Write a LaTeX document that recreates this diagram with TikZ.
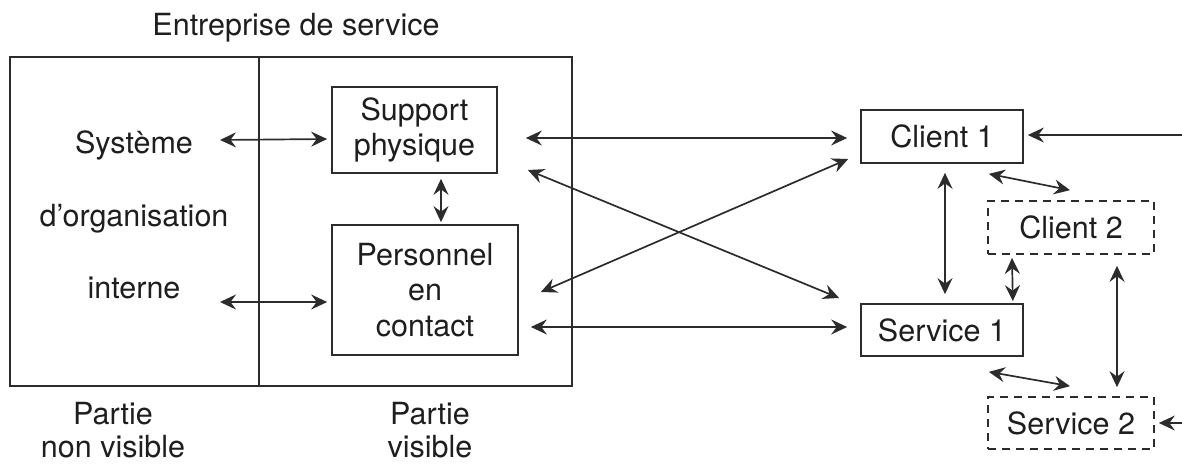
\documentclass[tikz,border=0pt]{standalone}
\usepackage{fontspec}
\setmainfont{TeX Gyre Heros}
\usetikzlibrary{arrows.meta}
\definecolor{ink}{HTML}{1e1e1e}
\definecolor{wire}{HTML}{2c2c2c}
\begin{document}
\begin{tikzpicture}[x=1pt,y=-1pt,
  every node/.style={font=\fontsize{30.5}{35.5}\selectfont, text=ink},
  label/.style={anchor=base, inner sep=0pt},
  frame/.style={draw=wire, line width=1.7pt, inner sep=0pt, align=center},
  dashbox/.style={frame, dash pattern=on 8pt off 6pt},
  >={Stealth[length=16pt,width=15pt,inset=5.5pt]},
  link/.style={draw=wire, line width=1.7pt, <->},
  feed/.style={draw=wire, line width=1.7pt, ->}]
\useasboundingbox (0,0) rectangle (1182,463);

% the service company: hidden part and visible part
\node[label] (title) at (296,35) {Entreprise de service};
\node[frame, minimum width=249pt, minimum height=329pt] (hidden) at (134.5,221.5) {};
\node[frame, minimum width=313pt, minimum height=329pt] (shown) at (415.5,221.5) {};

\node[label] (sys1) at (134,153) {Système};
\node[label] (sys2) at (134,226) {d’organisation};
\node[label] (sys3) at (134,298) {interne};

\node[frame, minimum width=165pt, minimum height=86pt] (sp) at (414.5,130) {Support\\physique};
\node[frame, minimum width=186pt, minimum height=130pt] (pc) at (425,290) {Personnel\\en\\contact};

\node[label] (p1) at (113,424) {Partie};
\node[label] (p2) at (113,457) {non visible};
\node[label] (v1) at (430,424) {Partie};
\node[label] (v2) at (430,457) {visible};

% clients and services
\node[frame, minimum width=162pt, minimum height=53pt] (c1) at (942,136.5) {Client 1};
\node[dashbox, minimum width=166pt, minimum height=53pt] (c2) at (1071,227.5) {Client 2};
\node[frame, minimum width=162pt, minimum height=52pt] (s1) at (942,330) {Service 1};
\node[dashbox, minimum width=166pt, minimum height=52pt] (s2) at (1071,423) {Service 2};

\coordinate (sysA) at (220,140);
\coordinate (sysB) at (220,302);
\coordinate (in1) at (1182,135);
\coordinate (in2) at (1182,423);

% links inside the company
\draw[link] (sysA) -- ([xshift=-4pt,yshift=-9pt]sp.west);
\draw[link] (sysB) -- ([xshift=-4pt,yshift=-12pt]pc.west);
\draw[link] ([xshift=26.5pt,yshift=-5pt]sp.south) -- ([xshift=16pt,yshift=2pt]pc.north);

% links between company and clients/services
\draw[link] ([xshift=28pt,yshift=-8pt]sp.east) -- ([xshift=-13pt,yshift=-1.5pt]c1.west);
\draw[link] ([xshift=30pt,yshift=-40pt]sp.east) -- ([xshift=-21pt,yshift=32pt]s1.west);
\draw[link] ([xshift=22pt,yshift=-2pt]pc.east) -- ([xshift=-12pt,yshift=-22.5pt]c1.west);
\draw[link] ([xshift=12pt,yshift=-37pt]pc.east) -- ([xshift=-13pt,yshift=3pt]s1.west);

% links among clients and services
\draw[link] ([xshift=3pt,yshift=-9pt]c1.south) -- ([xshift=3pt,yshift=9pt]s1.north);
\draw[link] ([xshift=-35pt,yshift=-10pt]c1.south east) -- ([xshift=-1pt,yshift=10pt]c2.north);
\draw[link] ([xshift=-59pt,yshift=-3pt]c2.south) -- ([xshift=-11pt,yshift=2pt]s1.north east);
\draw[link] ([xshift=46pt,yshift=-11pt]c2.south) -- ([xshift=46pt,yshift=9pt]s2.north);
\draw[link] ([xshift=-35pt,yshift=-15pt]s1.south east) -- ([xshift=-1pt,yshift=10pt]s2.north);

% incoming from outside
\draw[feed] (in1) -- ([xshift=4pt,yshift=1.5pt]c1.east);
\draw[feed] (in2) -- ([xshift=4pt]s2.east);
\end{tikzpicture}
\end{document}
